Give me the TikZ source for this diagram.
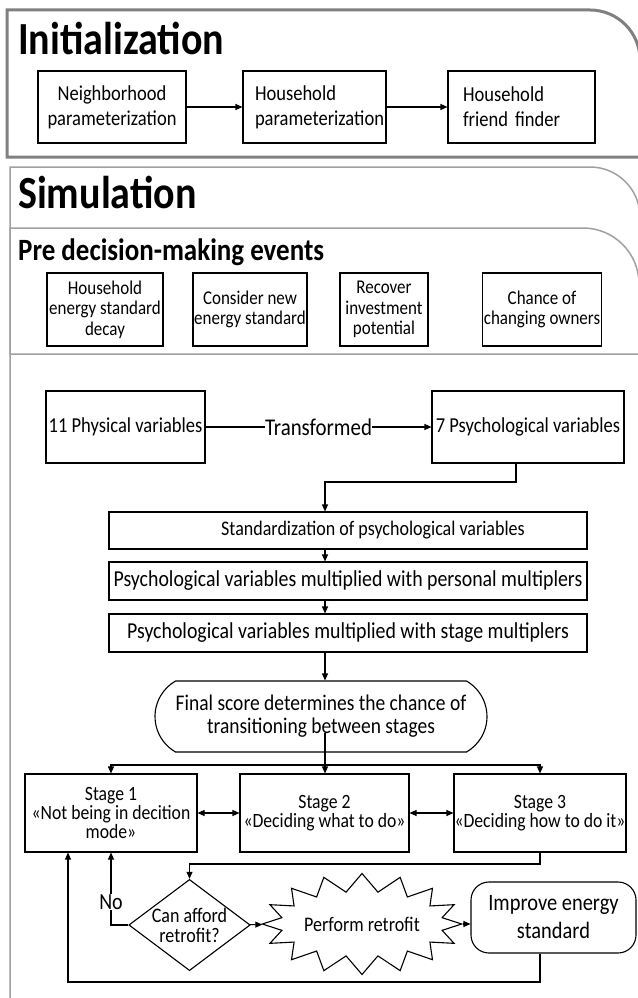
\documentclass[tikz,border=0pt]{standalone}
\usepackage{fontspec}
\setmainfont{Carlito}[FakeStretch=0.87]
\usetikzlibrary{arrows.meta,shapes.geometric,shapes.symbols,shapes.misc,calc}

\definecolor{framegray}{RGB}{128,128,128}
\definecolor{framelight}{RGB}{160,160,160}

\newcommand{\fsz}[2]{\fontsize{#1}{#2}\selectfont}

\begin{document}
\begin{tikzpicture}[x=1pt,y=1pt,
  box/.style={draw=black, line width=1.1pt, rectangle, inner sep=1pt, align=center},
  conn/.style={draw=black, line width=1.1pt, -{Triangle[length=7pt,width=6pt]}},
  dbl/.style={draw=black, line width=1.1pt, {Triangle[length=7pt,width=6pt]}-{Triangle[length=7pt,width=6pt]}},
  title/.style={anchor=base west, inner sep=0pt, font=\bfseries\fsz{46}{52}},
  initbox/.style={box, minimum height=72pt, font=\fsz{21.3}{25}},
  prebox/.style={box, minimum height=73pt, font=\fsz{19.5}{20.5}},
  flowbox/.style={box, minimum width=478pt, minimum height=38pt},
  stagebox/.style={box, minimum height=78pt, inner xsep=0.5pt, font=\fsz{20.3}{19}}
]
\useasboundingbox (0,0) rectangle (637,-998);
\fill[white] (0,0) rectangle (637,-998);

% section frames
\draw[line width=3pt, draw=framegray]
  (7,-157) -- (7,-10) -- (590,-10) arc[start angle=90,end angle=0,radius=50pt] -- (640,-157) -- cycle;
\draw[line width=1.5pt, draw=framelight]
  (10,-1005) -- (10,-167) -- (590,-167) arc[start angle=90,end angle=0,radius=50pt] -- (640,-1005);
\draw[line width=1.5pt, draw=framelight]
  (10,-354) -- (10,-228) -- (583,-228) arc[start angle=90,end angle=0,radius=56pt] -- (639,-354) -- cycle;

% titles
\node[title] (tinit) at (18,-55) {Initialization};
\node[title] (tsim) at (18,-208) {Simulation};
\node[title, font=\bfseries\fsz{31}{36}] (tpre) at (18,-260) {Pre decision-making events};

% initialization chain
\node[initbox, minimum width=148pt] (nb) at (112,-107) {Neighborhood\\parameterization};
\node[initbox, text width=119pt, inner xsep=12pt, align=left] (hp) at (314.5,-107) {Household\\parameterization};
\node[initbox, text width=117pt, inner xsep=15pt, align=left] (hf) at (521.5,-107) {Household\\friend finder};
\draw[conn] (nb) -- (hp);
\draw[conn] (hp) -- (hf);

% pre decision-making events
\node[prebox, minimum width=116pt] (pb1) at (105,-309.5) {Household\\energy standard\\decay};
\node[prebox, minimum width=114pt] (pb2) at (250,-309.5) {Consider new\\energy standard};
\node[prebox, minimum width=88pt] (pb3) at (384,-309.5) {Recover\\investment\\potential};
\node[prebox, minimum width=118pt] (pb4) at (542,-309.5) {Chance of\\changing owners};

% decision model
\coordinate (spx) at (325,-500);
\coordinate (bend1) at (325,-482);
\coordinate (split) at (325,-765);
\coordinate (bend2) at (0,-864);
\coordinate (fb) at (68,-982);

\node[box, minimum width=159pt, minimum height=72pt, font=\fsz{21.3}{24}] (phys) at (125.5,-427) {11 Physical variables};
\node[box, minimum width=192pt, minimum height=72pt, font=\fsz{21.3}{24}] (psy) at (528,-427) {7 Psychological variables};
\draw[conn] (phys) -- node[fill=white, inner sep=0.5pt, font=\fsz{24}{26}] (tlab) {Transformed} (psy);

\node[flowbox, minimum height=37pt, font=\fsz{20.7}{24}] (std) at (348,-530.5) {\hspace*{50pt}Standardization of psychological variables};
\node[flowbox, font=\fsz{22.8}{25}] (pers) at (348,-581) {Psychological variables multiplied with personal multiplers};
\node[flowbox, font=\fsz{22.8}{25}] (stm) at (348,-633) {Psychological variables multiplied with stage multiplers};

\node[draw, line width=1.1pt, rounded rectangle, rounded rectangle arc length=120,
      minimum width=310pt, minimum height=71pt, inner xsep=-11pt, align=center,
      font=\fsz{22.4}{23}] (term) at (321,-716.5) {Final score determines the chance of\\transitioning between stages};

\draw[conn] ([xshift=-12pt]psy.south) |- (bend1) -- (std.north -| spx);
\draw[conn] (std.south -| spx) -- (pers.north -| spx);
\draw[conn] (pers.south -| spx) -- (stm.north -| spx);
\draw[conn] (stm.south -| spx) -- (term.north -| spx);

\node[stagebox, minimum width=172pt] (s1) at (111,-813) {Stage 1\\«Not being in decition\\mode»};
\node[stagebox, minimum width=169pt] (s2) at (324.5,-813) {Stage 2\\«Deciding what to do»};
\node[stagebox, minimum width=172pt] (s3) at (540,-813) {Stage 3\\«Deciding how to do it»};

\draw[conn] ($(term.center -| split)+(0,-16)$) -- (s2.north -| split);
\draw[conn] (split) -| (s1.north);
\draw[conn] (split) -| (s3.north);
\draw[dbl] (s1) -- (s2);
\draw[dbl] (s2) -- (s3);

\node[draw, diamond, shape aspect=1.33, minimum width=121pt, minimum height=91pt, inner sep=0pt,
      line width=1.1pt, align=center, font=\fsz{20.7}{20}] (dec) at (189.5,-925) {Can afford\\retrofit?};
\node[draw, starburst, starburst points=16, starburst point height=18pt, random starburst=0,
      minimum width=146pt, minimum height=101pt, inner sep=0pt, line width=1.1pt,
      font=\fsz{20.7}{22}] (burst) at (362,-924) {Perform retrofit};
\node[draw, rectangle, rounded corners=18pt, minimum width=165pt, minimum height=71pt,
      line width=1.1pt, align=center, font=\fsz{23.5}{28}] (imp) at (553.5,-917.5) {Improve energy\\standard};

\draw[conn] (s3.south) -- (s3.south |- bend2) -| (dec.north);
\draw[conn] (dec.west) -| node[pos=0.66, fill=white, inner sep=0.5pt, font=\fsz{23}{24}] (nolab) {No} (s1.south);
\draw[conn] (dec) -- (burst);
\draw[conn] (burst.east) -- (burst.east -| imp.west);
\draw[conn] (imp.south -| s3.south) |- (fb) -- (fb |- s1.south);
\end{tikzpicture}
\end{document}
